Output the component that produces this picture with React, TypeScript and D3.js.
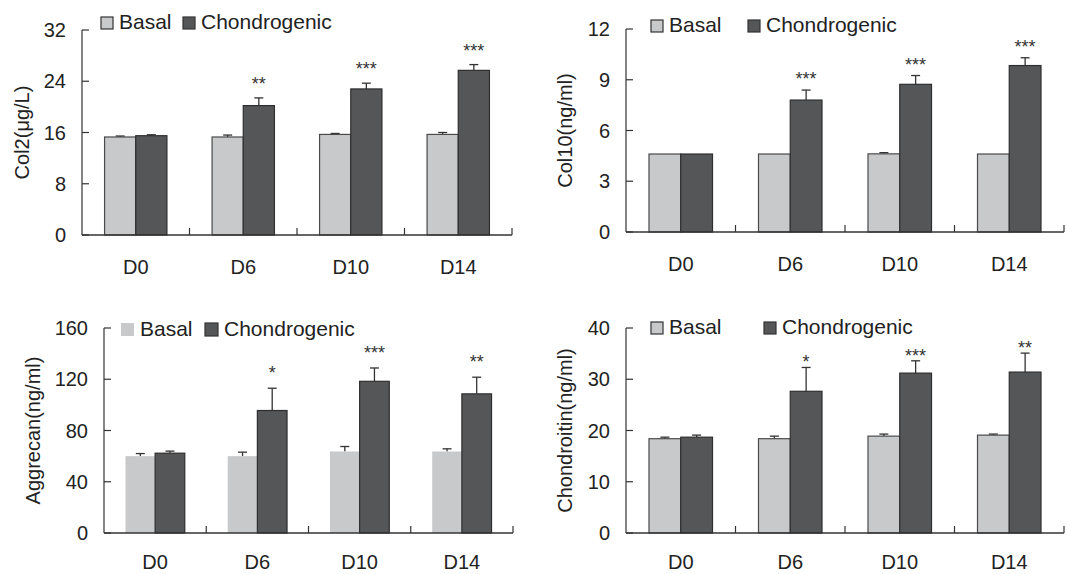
import React from 'react';
import * as d3 from 'd3';

// categories and series
const days = ['D0', 'D6', 'D10', 'D14'];
const seriesNames = ['Basal', 'Chondrogenic'];

const col2Basal = [15.3, 15.3, 15.7, 15.7];
const col2BasalErr = [0.15, 0.3, 0.15, 0.3];
const col2Chondro = [15.5, 20.2, 22.8, 25.7];
const col2ChondroErr = [0.15, 1.2, 0.9, 0.9];
const col2Sig = ['', '**', '***', '***'];
const col2Ticks = [0, 8, 16, 24, 32];

const col10Basal = [4.61, 4.61, 4.62, 4.61];
const col10BasalErr = [0, 0, 0.07, 0];
const col10Chondro = [4.61, 7.8, 8.73, 9.84];
const col10ChondroErr = [0, 0.59, 0.52, 0.46];
const col10Sig = ['', '***', '***', '***'];
const col10Ticks = [0, 3, 6, 9, 12];

const aggBasal = [60, 60, 63.6, 63.6];
const aggBasalErr = [2, 3.1, 3.9, 2.1];
const aggChondro = [62.3, 95.6, 118.4, 108.6];
const aggChondroErr = [1.6, 17.4, 10.4, 13];
const aggSig = ['', '*', '***', '**'];
const aggTicks = [0, 40, 80, 120, 160];

const chonBasal = [18.4, 18.4, 18.9, 19.1];
const chonBasalErr = [0.3, 0.5, 0.4, 0.2];
const chonChondro = [18.7, 27.65, 31.2, 31.4];
const chonChondroErr = [0.4, 4.65, 2.4, 3.7];
const chonSig = ['', '*', '***', '**'];
const chonTicks = [0, 10, 20, 30, 40];

const basalFill = '#c8c9cb';
const chondroFill = '#555658';
const ink = '#333';
const font = '"Liberation Sans", Arial, sans-serif';

const panels = [
  {
    label: 'Col2(μg/L)', basal: col2Basal, basalErr: col2BasalErr, chondro: col2Chondro,
    chondroErr: col2ChondroErr, sig: col2Sig, ticks: col2Ticks,
    x0: 82, x1: 512, yTop: 30, yBot: 235, xLabelY: 274, yLabelX: 22, legY: 17, legSize: 12,
    leg: [101, 183], starGap: 18, basalStroke: true,
  },
  {
    label: 'Col10(ng/ml)', basal: col10Basal, basalErr: col10BasalErr, chondro: col10Chondro,
    chondroErr: col10ChondroErr, sig: col10Sig, ticks: col10Ticks,
    x0: 626, x1: 1064, yTop: 29, yBot: 232, xLabelY: 271, yLabelX: 565, legY: 20, legSize: 12,
    leg: [651, 748], starGap: 15, basalStroke: true,
  },
  {
    label: 'Aggrecan(ng/ml)', basal: aggBasal, basalErr: aggBasalErr, chondro: aggChondro,
    chondroErr: aggChondroErr, sig: aggSig, ticks: aggTicks,
    x0: 104, x1: 513, yTop: 328, yBot: 533, xLabelY: 569, yLabelX: 33, legY: 323, legSize: 13,
    leg: [121, 205], starGap: 19, basalStroke: false,
  },
  {
    label: 'Chondroitin(ng/ml)', basal: chonBasal, basalErr: chonBasalErr, chondro: chonChondro,
    chondroErr: chonChondroErr, sig: chonSig, ticks: chonTicks,
    x0: 626, x1: 1064, yTop: 328, yBot: 533, xLabelY: 569, yLabelX: 565, legY: 322, legSize: 12,
    leg: [651, 764], starGap: 9, basalStroke: true,
  },
];

function Panel({ p }: { p: any }) {
  const x = d3.scaleBand().domain(days).range([p.x0, p.x1]);
  // pair of bars fills ~58% of each category slot
  const inner = d3.scaleBand().domain(seriesNames).range([0, x.bandwidth()]).paddingOuter(0.724).paddingInner(0);
  const y = d3.scaleLinear().domain([p.ticks[0], p.ticks[p.ticks.length - 1]]).range([p.yBot, p.yTop]);
  const vals = [p.basal, p.chondro];
  const errs = [p.basalErr, p.chondroErr];
  const fills = [basalFill, chondroFill];
  const bw = inner.bandwidth();

  return (
    <g>
      {/* bars */}
      {days.map((d, i) =>
        seriesNames.map((s, k) => {
          const bx = (x(d) as number) + (inner(s) as number);
          const top = y(vals[k][i]);
          const errTop = y(vals[k][i] + errs[k][i]);
          const stroke = k === 0 ? (p.basalStroke ? '#4a4a4a' : 'none') : '#2e2e2e';
          return (
            <g key={d + s}>
              {errs[k][i] > 0 && (
                <g stroke={ink} strokeWidth={1.3}>
                  <line x1={bx + bw / 2} x2={bx + bw / 2} y1={top} y2={errTop} />
                  <line x1={bx + bw / 2 - 4.5} x2={bx + bw / 2 + 4.5} y1={errTop} y2={errTop} />
                </g>
              )}
              <rect x={bx} y={top} width={bw} height={y(0) - top} fill={fills[k]}
                stroke={stroke} strokeWidth={1.2} />
            </g>
          );
        })
      )}
      {/* significance stars */}
      {days.map((d, i) => p.sig[i] ? (
        <text key={'s' + d} x={(x(d) as number) + (inner('Chondrogenic') as number) + bw / 2}
          y={y(p.chondro[i] + p.chondroErr[i]) - p.starGap + 10} textAnchor="middle"
          fontSize={18} fontFamily={font} fill={ink}>{p.sig[i]}</text>
      ) : null)}
      {/* y axis */}
      <line x1={p.x0} x2={p.x0} y1={p.yTop} y2={p.yBot} stroke={ink} strokeWidth={1.2} />
      {p.ticks.map((t: number) => (
        <g key={'t' + t}>
          <line x1={p.x0} x2={p.x0 + 7} y1={y(t)} y2={y(t)} stroke={ink} strokeWidth={1.2} />
          <text x={p.x0 - 16} y={y(t)} dy="0.36em" textAnchor="end" fontSize={20}
            fontFamily={font} fill="#222">{t}</text>
        </g>
      ))}
      {/* x axis */}
      <line x1={p.x0} x2={p.x1} y1={p.yBot} y2={p.yBot} stroke={ink} strokeWidth={1.5} />
      {days.map((d) => (
        <g key={'x' + d}>
          <line x1={(x(d) as number) + x.bandwidth()} x2={(x(d) as number) + x.bandwidth()}
            y1={p.yBot} y2={p.yBot - 7} stroke={ink} strokeWidth={1.2} />
          <text x={(x(d) as number) + x.bandwidth() / 2} y={p.xLabelY} textAnchor="middle"
            fontSize={20} fontFamily={font} fill="#222">{d}</text>
        </g>
      ))}
      {/* y label */}
      <text transform={`translate(${p.yLabelX},${(p.yTop + p.yBot) / 2}) rotate(-90)`}
        textAnchor="middle" dominantBaseline="central" fontSize={20} fontFamily={font}
        fill="#222">{p.label}</text>
      {/* legend */}
      {seriesNames.map((s, k) => (
        <g key={'l' + s}>
          <rect x={p.leg[k]} y={p.legY} width={p.legSize} height={p.legSize} fill={fills[k]}
            stroke={k === 0 && !p.basalStroke ? 'none' : '#333'} strokeWidth={1.2} />
          <text x={p.leg[k] + p.legSize + 6} y={p.legY + p.legSize} fontSize={21}
            fontFamily={font} fill="#222">{s}</text>
        </g>
      ))}
    </g>
  );
}

export default function App() {
  return (
    <svg width={1067} height={574} style={{ position: 'absolute', left: 0, top: 0, background: '#fff' }}>
      {panels.map((p) => <Panel key={p.label} p={p} />)}
    </svg>
  );
}
